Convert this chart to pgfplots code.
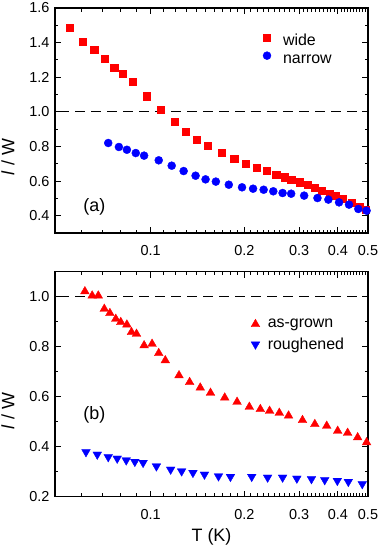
\documentclass[border=0pt]{standalone}
\usepackage{pgfplots}
\pgfplotsset{compat=1.18}
\usepackage{fontspec}
\setmainfont{Liberation Sans}
\definecolor{myred}{RGB}{255,0,0}
\definecolor{myblue}{RGB}{0,0,255}
\newcommand{\lstrut}{\rule[-5.2bp]{0pt}{21.7bp}}
\pgfplotsset{
 myaxis/.style={
  scale only axis, width=313bp, height=225bp,
  xtick={0.1,0.2,0.3,0.4,0.5}, xticklabels={0.1,0.2,0.3,0.4,0.5},
  minor xtick={0.06,0.07,0.08,0.09,0.11,0.12,0.13,0.14,0.15,0.16,0.17,0.18,0.19,0.21,0.22,0.23,0.24,0.25,0.26,0.27,0.28,0.29,0.31,0.32,0.33,0.34,0.35,0.36,0.37,0.38,0.39,0.41,0.42,0.43,0.44,0.45,0.46,0.47,0.48,0.49},
  minor y tick num=1,
  tick align=inside,
  major tick length=6bp, minor tick length=3.5bp,
  axis line style={line width=1.2bp},
  every tick/.style={black, line width=1bp},
  ticklabel style={font=\fontsize{14.5}{16}\selectfont},
  /pgf/number format/assume math mode=true,
  yticklabel style={/pgf/number format/fixed, /pgf/number format/precision=1, /pgf/number format/fixed zerofill, xshift=-2bp},
  xticklabel style={yshift=-9bp},
  legend style={draw=none, fill=none, font=\fontsize{16}{18}\selectfont, anchor=north west, inner sep=0pt},
  legend cell align=left,
 }
}
\begin{document}
\begin{tikzpicture}
% ---------- panel (a)
\begin{axis}[xmode=log, xmin=0.0492, xmax=0.5, myaxis, at={(55bp,-8bp)}, anchor=north west,
  ymin=0.3, ymax=1.6, ytick={0.4,0.6,0.8,1.0,1.2,1.4,1.6},
  ylabel={\textit{l} / W},
  every axis y label/.style={at={(rel axis cs:0,0.338)}, xshift=-47bp, rotate=90, anchor=center, font=\fontsize{18}{20}\selectfont},
  legend style={at={(rel axis cs:0.664,0.909)}, nodes={inner xsep=12bp, inner ysep=0bp}},
]
\addplot[black, line width=1.1bp, dash pattern=on 10bp off 6bp, forget plot] coordinates {(0.04,1.0) (0.6,1.0)};
\addplot[only marks, mark=square*, mark size=3.6bp, color=myred] coordinates {
(0.0550,1.484) (0.0604,1.407) (0.0658,1.359) (0.0709,1.307) (0.0763,1.257)
(0.0811,1.221) (0.0873,1.176) (0.0971,1.090) (0.1079,1.013) (0.1194,0.941)
(0.1295,0.884) (0.1408,0.839) (0.1527,0.805) (0.1689,0.762) (0.1855,0.728)
(0.2026,0.699) (0.2187,0.675) (0.2354,0.660) (0.2534,0.637) (0.2702,0.622)
(0.2830,0.608) (0.3010,0.593) (0.3193,0.579) (0.3363,0.560) (0.3541,0.545)
(0.3766,0.527) (0.3937,0.516) (0.4135,0.500) (0.4430,0.473) (0.4699,0.450)
(0.4910,0.435)};
\addlegendentry{\lstrut wide}
\addplot[only marks, mark=*, mark size=4bp, color=myblue] coordinates {
(0.0730,0.820) (0.0790,0.797) (0.0838,0.781) (0.0895,0.762) (0.0952,0.747)
(0.1061,0.720) (0.1168,0.689) (0.1276,0.658) (0.1394,0.631) (0.1501,0.610)
(0.1620,0.597) (0.1783,0.579) (0.1967,0.564) (0.2134,0.556) (0.2308,0.550)
(0.2479,0.541) (0.2656,0.531) (0.2830,0.527) (0.3116,0.516) (0.3439,0.502)
(0.3728,0.493) (0.4035,0.477) (0.4344,0.464) (0.4653,0.439) (0.4948,0.429)};
\addlegendentry{\lstrut narrow}
\node[font=\fontsize{18}{20}\selectfont] at (rel axis cs:0.1256,0.117) {(a)};
\end{axis}
% ---------- panel (b)
\begin{axis}[xmode=log, xmin=0.0492, xmax=0.5, myaxis, at={(55bp,-271.7bp)}, anchor=north west,
  ymin=0.2, ymax=1.1, ytick={0.2,0.4,0.6,0.8,1.0},
  ylabel={\textit{l} / W},
  xlabel={T (K)},
  every axis y label/.style={at={(rel axis cs:0,0.381)}, xshift=-47bp, rotate=90, anchor=center, font=\fontsize{18}{20}\selectfont},
  every axis x label/.style={at={(rel axis cs:0.5,0)}, yshift=-40bp, anchor=center, font=\fontsize{18}{20}\selectfont},
  legend style={at={(rel axis cs:0.626,0.809)}, nodes={inner xsep=8bp, inner ysep=4.3bp}},
]
\addplot[black, line width=1.1bp, dash pattern=on 10bp off 6bp, forget plot] coordinates {(0.04,1.0) (0.6,1.0)};
\addplot[only marks, mark=triangle*, mark size=5bp, color=myred] coordinates {
(0.0614,1.021) (0.0648,1.004) (0.0678,1.004) (0.0709,0.951) (0.0739,0.934)
(0.0772,0.911) (0.0801,0.898) (0.0838,0.888) (0.0867,0.858) (0.0900,0.851)
(0.0952,0.805) (0.1010,0.811) (0.1061,0.774) (0.1114,0.745) (0.1233,0.685)
(0.1334,0.658) (0.1443,0.636) (0.1557,0.615) (0.1730,0.596) (0.1896,0.579)
(0.2076,0.559) (0.2252,0.550) (0.2412,0.543) (0.2592,0.535) (0.2776,0.524)
(0.3078,0.506) (0.3372,0.490) (0.3683,0.483) (0.3995,0.463) (0.4300,0.455)
(0.4631,0.437) (0.4948,0.417)};
\addlegendentry{as-grown}
\addplot[only marks, mark=triangle*, mark options={rotate=180}, mark size=5bp, color=myblue] coordinates {
(0.0619,0.379) (0.0673,0.369) (0.0730,0.359) (0.0780,0.353) (0.0834,0.346)
(0.0889,0.340) (0.0945,0.336) (0.1043,0.322) (0.1159,0.309) (0.1257,0.302)
(0.1367,0.296) (0.1489,0.289) (0.1652,0.282) (0.1805,0.280) (0.2113,0.280)
(0.2377,0.277) (0.2656,0.277) (0.2952,0.273) (0.3289,0.271) (0.3629,0.267)
(0.3985,0.264) (0.4322,0.260) (0.4792,0.251)};
\addlegendentry{roughened}
\node[font=\fontsize{18}{20}\selectfont] at (rel axis cs:0.1256,0.363) {(b)};
\end{axis}
\pgfresetboundingbox
\path[use as bounding box] (0bp,0bp) rectangle (382bp,-550bp);
\end{tikzpicture}
\end{document}
